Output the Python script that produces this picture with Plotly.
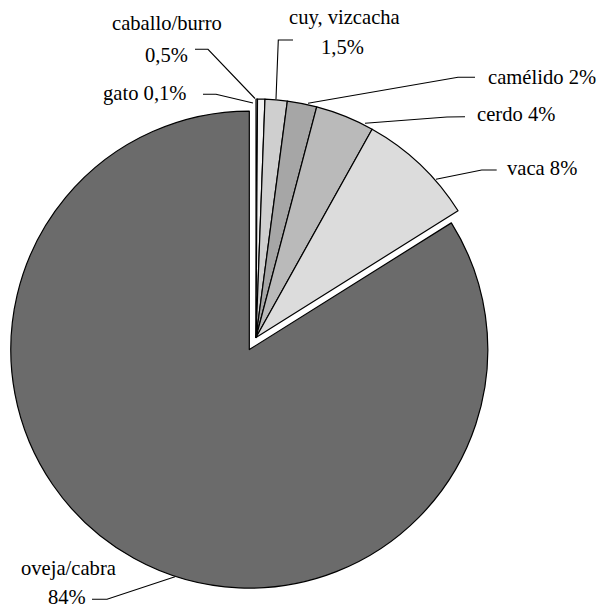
import plotly.graph_objects as go

# ---- data ----
categories = ["gato", "caballo/burro", "cuy, vizcacha", "camélido", "cerdo", "vaca", "oveja/cabra"]
values = [0.1, 0.5, 1.5, 2, 4, 8, 84]
slice_colors = ["#ffffff", "#f2f2f2", "#cfcfcf", "#a6a6a6", "#bababa", "#dcdcdc", "#6b6b6b"]
pulls = [0, 0, 0, 0, 0, 0, 0.058]

# label lines (text, anchor, x px, baseline y px)
label_texts = [
    ("caballo/burro", "center", 167, 30),
    ("0,5%", "center", 166.5, 61.7),
    ("gato 0,1%", "right", 189, 100),
    ("cuy, vizcacha", "center", 344, 24),
    ("1,5%", "center", 342, 53.3),
    ("camélido 2%", "left", 486, 83.3),
    ("cerdo 4%", "left", 475, 120.7),
    ("vaca 8%", "left", 505, 175),
    ("oveja/cabra", "center", 68, 575),
    ("84%", "center", 67, 603.3),
]
# leader lines (pixel polylines)
leader_lines = [
    [(195, 49.3), (208, 49.3), (255, 98.5)],
    [(203, 94.3), (216, 94.3), (253, 103)],
    [(293, 40), (278.3, 40), (276, 99)],
    [(475, 77.3), (458, 77.3), (308, 103.3)],
    [(465, 116.7), (447, 117), (365, 123.3)],
    [(496.7, 170), (481.7, 170), (436, 179.3)],
    [(92, 599.3), (107, 599.3), (175, 576.7)],
]

W, H = 597, 607
FS = 20.6
CX, CY, R = 256, 337.5, 238.5  # pie centre / radius in px
half = R * (1 + max(pulls))

def px(x):
    return x / W

def py(y):
    return 1 - y / H

fig = go.Figure()
fig.add_trace(go.Pie(
    labels=categories,
    values=values,
    sort=False,
    direction="clockwise",
    rotation=0,
    pull=pulls,
    textinfo="none",
    hoverinfo="label+percent",
    marker=dict(colors=slice_colors, line=dict(color="black", width=1.2)),
    domain=dict(x=[px(CX - half), px(CX + half)], y=[py(CY + half), py(CY - half)]),
    showlegend=False,
))

annotations = []
for text, anchor, x, base in label_texts:
    annotations.append(dict(
        text=text, x=px(x), y=py(base - 0.32 * FS), xref="paper", yref="paper",
        xanchor=anchor, yanchor="middle", showarrow=False,
        font=dict(family="Liberation Serif, Times New Roman, DejaVu Serif, serif", size=FS, color="black"),
    ))

shapes = []
for pts in leader_lines:
    path = "M " + " L ".join(f"{px(x)},{py(y)}" for x, y in pts)
    shapes.append(dict(type="path", path=path, xref="paper", yref="paper",
                       line=dict(color="black", width=1.1)))

fig.update_layout(
    width=W, height=H,
    margin=dict(l=0, r=0, t=0, b=0),
    paper_bgcolor="white", plot_bgcolor="white",
    font=dict(family="Liberation Serif, Times New Roman, DejaVu Serif, serif"),
    annotations=annotations, shapes=shapes,
)

fig.write_html("out.html", config={"displayModeBar": False},
               post_script="document.body.style.margin='0';")
